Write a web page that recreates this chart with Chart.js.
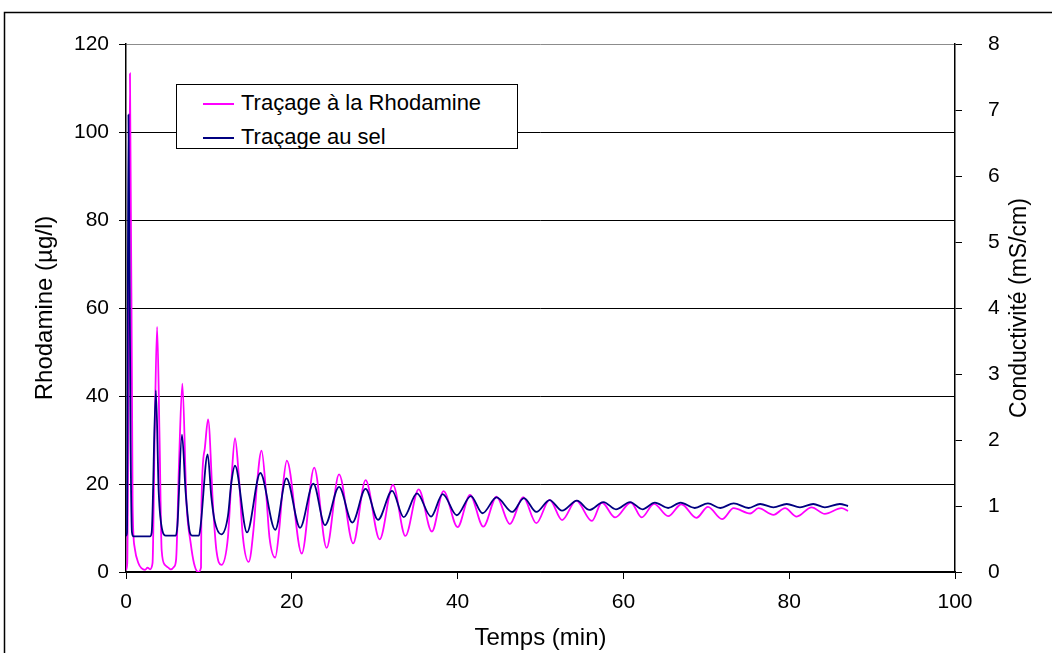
<!DOCTYPE html>
<html>
<head>
<meta charset="utf-8">
<script src="https://cdn.jsdelivr.net/npm/chart.js"></script>
<style>
  body { margin: 0; background: #fff; }
  #wrap { position: relative; width: 1052px; height: 653px; overflow: hidden; }
  #chart { position: absolute; left: 0; top: 0; }
  #legend {
    position: absolute; left: 176px; top: 84px; width: 340px; height: 63px;
    border: 1px solid #000; background: #fff;
    font-family: "Liberation Sans", Arial, sans-serif; font-size: 22px; color: #000;
  }
  #legend .row { position: absolute; left: 26px; height: 24px; line-height: 24px; white-space: nowrap; }
  #legend .mark { display: inline-block; width: 31px; height: 2px; vertical-align: middle; margin-right: 7px; }
</style>
</head>
<body>
<div id="wrap">
  <canvas id="chart" width="1052" height="653"></canvas>
  <div id="legend">
    <div class="row" style="top:6px"><span class="mark" style="background:#ff00ff"></span>Traçage à la Rhodamine</div>
    <div class="row" style="top:40px"><span class="mark" style="background:#000080"></span>Traçage au sel</div>
  </div>
</div>
<script>
// Rhodamine (µg/l) vs time (min)
const rhoTime = [
  0, 0.15, 0.48, 0.8, 1.05, 1.5, 1.9, 2.3, 2.6, 2.9,
  3.2, 3.45, 3.75, 4.05, 4.3, 4.7, 5.1, 5.4, 5.8, 6.05,
  6.4, 6.8, 7.3, 7.8, 8.2, 8.7, 9.05, 9.1, 9.5, 9.9,
  10.5, 10.9, 11.5, 12.3, 12.7, 13.15, 13.6, 14.1, 14.8, 15.4,
  15.8, 16.35, 16.9, 17.3, 18.0, 18.5, 18.9, 19.4, 21.2, 22.7,
  24.2, 25.7, 27.4, 28.9, 30.6, 32.2, 33.7, 35.3, 36.9, 38.3,
  40.0, 41.5, 43.1, 44.7, 46.3, 47.9, 49.5, 51.1, 52.6, 54.3,
  56.2, 57.4, 59.0, 60.9, 62.2, 63.7, 65.4, 67.0, 68.8, 70.2,
  71.9, 73.3, 75.3, 76.3, 78.1, 79.5, 80.9, 82.7, 84.3, 86.3,
  87.1
];
const rhoValue = [
  0.5, 2, 113.3, 15, 5.5, 2, 0.8, 0.5, 1.0, 0.6,
  2, 30, 55.7, 30, 5, 1.6, 1.0, 0.6, 1.2, 3,
  25, 42.8, 15.5, 6.6, 2, 0, 1, 15, 28, 34.7,
  14.9, 5, 1.6, 8, 20.4, 30.4, 22, 8, 2.3, 10,
  20, 27.6, 18, 8, 3.3, 10, 19, 25.3, 4.2, 23.7,
  5.5, 22.2, 6.5, 20.9, 7.4, 19.8, 8.2, 18.8, 9.2, 18.4,
  10.2, 17.5, 10.3, 17.1, 10.9, 17.0, 11.1, 16.4, 11.8, 16.2,
  11.6, 15.8, 12.4, 15.8, 12.4, 15.5, 12.7, 15.4, 12.3, 14.8,
  12.0, 14.5, 13.3, 14.5, 13.0, 14.5, 12.6, 14.7, 13.2, 14.5,
  13.9
];

// Conductivity (mS/cm) vs time (min)
const selTime = [
  0, 0.12, 0.3, 0.55, 0.72, 0.9, 2.9, 3.1, 3.6, 3.95,
  4.4, 4.8, 6.0, 6.2, 6.75, 7.2, 7.7, 8.0, 8.8, 9.0,
  9.85, 10.3, 10.7, 11.5, 12.3, 12.7, 13.15, 14.6, 16.2, 18.0,
  19.35, 21.0, 22.6, 24.0, 25.7, 27.3, 28.9, 30.4, 32.1, 33.5,
  35.1, 36.8, 38.2, 39.9, 41.6, 43.0, 44.7, 46.6, 48.0, 49.5,
  51.1, 52.6, 54.4, 55.9, 57.6, 59.1, 60.8, 62.3, 63.8, 65.4,
  66.9, 68.6, 70.2, 71.7, 73.3, 75.1, 76.5, 78.1, 79.7, 81.3,
  82.9, 84.3, 86.1, 87.1
];
const selValue = [
  0.55, 0.6, 6.93, 2, 0.6, 0.54, 0.54, 0.6, 2.75, 1.2,
  0.62, 0.55, 0.55, 0.7, 2.08, 1.2, 0.6, 0.55, 0.55, 0.7,
  1.78, 1.13, 0.77, 0.57, 0.85, 1.35, 1.61, 0.6, 1.5, 0.64,
  1.42, 0.67, 1.34, 0.71, 1.29, 0.75, 1.26, 0.79, 1.23, 0.83,
  1.19, 0.84, 1.18, 0.86, 1.15, 0.89, 1.13, 0.91, 1.12, 0.91,
  1.09, 0.93, 1.08, 0.94, 1.06, 0.95, 1.06, 0.95, 1.05, 0.97,
  1.05, 0.97, 1.04, 0.97, 1.04, 0.97, 1.03, 0.98, 1.03, 0.98,
  1.03, 0.98, 1.03, 1.00
];

const font = "Liberation Sans";
const rightTitle = "Conductivité (mS/cm)";

// outer frame + right axis title (reads bottom to top, like the left one)
const framePlugin = {
  id: "frame",
  beforeDraw(chart) {
    const c = chart.ctx;
    c.save();
    c.fillStyle = "#fff";
    c.fillRect(0, 0, chart.width, chart.height);
    c.strokeStyle = "#000";
    c.lineWidth = 1.5;
    c.strokeRect(4.5, 12.5, 1100, 700);
    c.restore();
  },
  afterDraw(chart) {
    const c = chart.ctx;
    const area = chart.chartArea;
    c.save();
    c.translate(1020, (area.top + area.bottom) / 2);
    c.rotate(-Math.PI / 2);
    c.font = "23px " + font;
    c.fillStyle = "#000";
    c.textAlign = "center";
    c.textBaseline = "middle";
    c.fillText(rightTitle, 0, 0);
    c.restore();
  }
};

const ctx = document.getElementById("chart").getContext("2d");
new Chart(ctx, {
  type: "line",
  data: {
    datasets: [
      {
        label: "Traçage à la Rhodamine",
        data: rhoTime.map((t, i) => ({ x: t, y: rhoValue[i] })),
        borderColor: "#ff00ff",
        borderWidth: 1.8,
        pointRadius: 0,
        cubicInterpolationMode: "monotone",
        yAxisID: "y",
        order: 1,
      },
      {
        label: "Traçage au sel",
        data: selTime.map((t, i) => ({ x: t, y: selValue[i] })),
        borderColor: "#000080",
        borderWidth: 1.8,
        pointRadius: 0,
        cubicInterpolationMode: "monotone",
        yAxisID: "y1",
        order: 0,
      },
    ],
  },
  options: {
    responsive: false,
    animation: false,
    layout: { padding: { top: 44 } },
    plugins: { legend: { display: false }, tooltip: { enabled: false } },
    scales: {
      x: {
        type: "linear",
        min: 0,
        max: 100,
        ticks: { stepSize: 20, color: "#000", font: { family: font, size: 21 }, padding: 11, maxRotation: 0 },
        grid: { drawOnChartArea: false, color: "#000", tickLength: 7 },
        border: { color: "#000", width: 1.5 },
        title: { display: true, text: "Temps (min)", color: "#000", font: { family: font, size: 24 }, padding: { top: 0, bottom: 0 } },
        afterFit(scale) { scale.height = 81; },
      },
      y: {
        position: "left",
        min: 0,
        max: 120,
        ticks: { stepSize: 20, color: "#000", font: { family: font, size: 21 }, padding: 10 },
        grid: {
          color: (c) => (c.tick && c.tick.value === 120 ? "#8c8c8c" : "#000"),
          tickColor: "#000",
          tickLength: 7,
        },
        border: { color: "#000", width: 1.5 },
        title: { display: true, text: "Rhodamine (µg/l)", color: "#000", font: { family: font, size: 24 }, padding: { top: 31, bottom: 0 } },
        afterFit(scale) { scale.width = 126; },
      },
      y1: {
        position: "right",
        min: 0,
        max: 8,
        ticks: { stepSize: 1, color: "#000", font: { family: font, size: 21 }, padding: 26 },
        grid: { drawOnChartArea: false, color: "#000", tickLength: 7 },
        border: { color: "#000", width: 1.5 },
        afterFit(scale) { scale.width = 97; },
      },
    },
  },
  plugins: [framePlugin],
});
</script>
</body>
</html>
